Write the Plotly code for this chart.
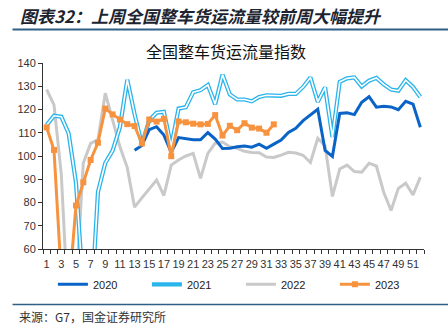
import plotly.graph_objects as go

weeks = list(range(1, 53))
tick_weeks = list(range(1, 52, 2))

y2020 = [None]*12 + [102.5, 104.5, 111.3, 112.6, 109.0, 101.5, 107.9, 107.4, 107.0, 107.0,
                     110.1, 107.3, 103.2, 103.3, 104.0, 104.3, 103.8, 105.1, 103.3, 105.1,
                     106.9, 110.1, 111.9, 115.2, 117.6, 120.1, 102.4, 99.8, 118.3, 118.6,
                     117.8, 123.1, 125.5, 121.0, 121.4, 121.1, 119.9, 123.5, 122.3, 112.4]
y2021 = [113.3, 117.3, 116.9, 109.7, 88.5, 42.0, 30.0, 84.5, 97.0, 102.3,
         112.4, 132.8, 118.0, 105.0, 115.4, 118.6, 119.0, 104.0, 120.4, 121.0,
         127.4, 128.3, 130.5, 122.3, 135.0, 126.5, 124.3, 124.3, 123.5, 125.4,
         126.1, 126.1, 125.9, 126.7, 126.7, 129.7, 133.8, 123.3, 129.5, 108.2,
         131.9, 133.4, 133.8, 129.9, 132.4, 133.6, 130.8, 128.6, 128.1, 132.6,
         129.7, 125.4]
y2022 = [128.6, 122.0, 92.0, 30.0, 42.0, 97.0, 105.4, 107.0, 127.0, 115.0,
         104.0, 95.0, 78.0, 82.0, 86.1, 89.7, 83.0, 96.1, 98.3, 100.0,
         101.1, 90.4, 101.1, 105.5, 106.0, 104.0, 103.3, 102.0, 101.5, 101.4,
         99.6, 99.4, 100.4, 101.6, 101.3, 100.3, 97.2, 107.6, 104.4, 82.6,
         94.4, 96.1, 93.3, 93.0, 96.9, 95.7, 84.4, 76.6, 86.1, 88.3,
         83.3, 90.9]
y2023 = [112.3, 102.6, 48.0, 40.0, 78.7, 88.7, 98.3, 105.7, 120.4, 117.9,
         115.7, 113.7, 112.9, 105.4, 115.7, 114.8, 116.0, 99.9, 114.9, 114.5,
         113.9, 113.6, 113.8, 117.6, 108.8, 113.0, 111.1, 114.1, 112.2, 111.8,
         110.0, 113.6] + [None]*20

FONT = "Liberation Sans, Arial, sans-serif"
CJK = "Noto Sans CJK SC, sans-serif"
PLOT_H = 186.3

fig = go.Figure()
fig.add_trace(go.Scatter(x=weeks, y=y2022, mode="lines", name="2022",
                         line=dict(color="#C9C9C9", width=3), legendrank=3))
fig.add_trace(go.Scatter(x=weeks, y=y2021, mode="lines", name="2021",
                         line=dict(color="#2AB4EC", width=4.2), legendrank=2))
fig.add_trace(go.Scatter(x=weeks, y=y2021, mode="lines", name="2021",
                         line=dict(color="#FFFFFF", width=1.6), showlegend=False, hoverinfo="skip"))
fig.add_trace(go.Scatter(x=weeks, y=y2020, mode="lines", name="2020",
                         line=dict(color="#0A64C8", width=3), legendrank=1))
fig.add_trace(go.Scatter(x=weeks, y=y2023, mode="lines+markers", name="2023",
                         line=dict(color="#F7933F", width=3),
                         marker=dict(symbol="square", size=6, color="#F7933F"), legendrank=4))

fig.update_layout(
    width=448, height=326,
    margin=dict(l=43, r=24, t=63, b=77),
    paper_bgcolor="white", plot_bgcolor="white",
    font=dict(family=FONT, size=11, color="#333333"),
    showlegend=True,
    legend=dict(orientation="h", x=0.026, xanchor="left", y=-0.19, yanchor="middle",
                entrywidth=49, entrywidthmode="pixels", font=dict(size=11, color="#222222"),
                bgcolor="rgba(0,0,0,0)", tracegroupgap=0, itemwidth=30),
    xaxis=dict(range=[0.5, 52.5], tickvals=tick_weeks, ticktext=[str(w) for w in tick_weeks],
               ticks="", showgrid=False, zeroline=False, showline=True, ticklabelstandoff=5,
               linecolor="#333333", linewidth=1, tickfont=dict(size=11, color="#333333"),
               minor=dict(tick0=0.5, dtick=1, ticks="outside", ticklen=4,
                          tickcolor="#333333", showgrid=False)),
    yaxis=dict(range=[60, 140], dtick=10, ticks="outside", ticklen=4, tickcolor="#333333",
               showgrid=False, zeroline=False, showline=True, linecolor="#333333",
               linewidth=1, tickfont=dict(size=11, color="#333333")),
    annotations=[
        dict(text="<b><i>图表32：上周全国整车货运流量较前周大幅提升</i></b>", xref="paper", yref="paper",
             x=-0.065, y=1.0, xanchor="left", yanchor="top", showarrow=False,
             font=dict(family=CJK, size=17, color="#1B2430"),
             yshift=62),
        dict(text="全国整车货运流量指数", xref="paper", yref="paper", x=0.48, y=1.0,
             xanchor="center", yanchor="middle", showarrow=False, yshift=12,
             font=dict(family=CJK, size=16, color="#111111")),
        dict(text="来源：G7，国金证券研究所", xref="paper", yref="paper", x=-0.068, y=0,
             xanchor="left", yanchor="middle", showarrow=False, yshift=-67,
             font=dict(family=CJK, size=12, color="#333333")),
    ],
)
y_head = 1 + (63 - 29.5) / PLOT_H
y_foot = -(304.5 - 249) / PLOT_H
fig.add_shape(type="line", xref="paper", yref="paper", x0=-0.08, x1=1.07,
              y0=y_head, y1=y_head, line=dict(color="#2F5F86", width=2))
fig.add_shape(type="line", xref="paper", yref="paper", x0=-0.08, x1=1.07,
              y0=y_foot, y1=y_foot, line=dict(color="#2F5F86", width=1.5))

fig.write_html("out.html")
